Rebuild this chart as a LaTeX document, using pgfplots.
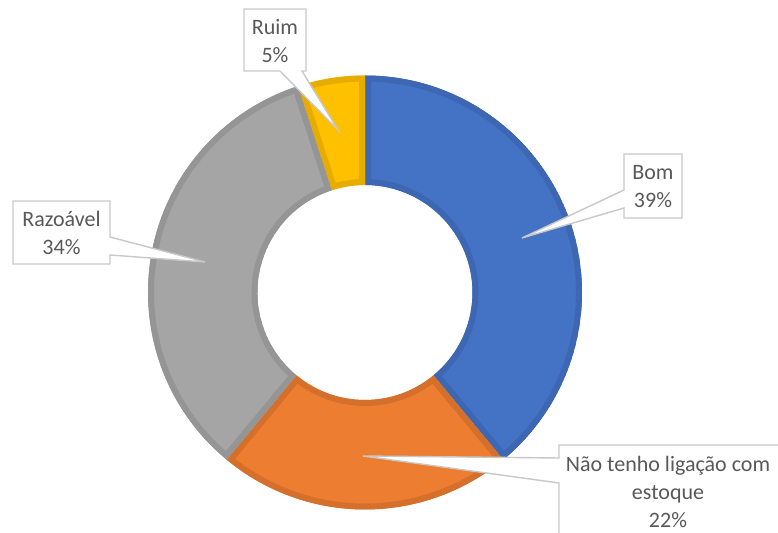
\documentclass[border=0pt]{standalone}
\usepackage{fontspec}
\setmainfont{Carlito}
\usepackage{pgfplots}
\usepackage{pgfplotstable}
\pgfplotsset{compat=1.18}
\definecolor{cBlue}{HTML}{4472C4}\definecolor{dBlue}{HTML}{3D67B3}
\definecolor{cOrange}{HTML}{ED7D31}\definecolor{dOrange}{HTML}{D4702C}
\definecolor{cGray}{HTML}{A5A5A5}\definecolor{dGray}{HTML}{959595}
\definecolor{cYellow}{HTML}{FFC000}\definecolor{dYellow}{HTML}{E6AD00}
\definecolor{txt}{HTML}{595959}
\definecolor{boxline}{HTML}{C8C8C8}
\pgfplotstableread{
label value
Bom 39
Nao 22
Razoavel 34
Ruim 5
}\donutdata
\pgfplotstablegetelem{0}{value}\of\donutdata \let\vA\pgfplotsretval
\pgfplotstablegetelem{1}{value}\of\donutdata \let\vB\pgfplotsretval
\pgfplotstablegetelem{2}{value}\of\donutdata \let\vC\pgfplotsretval
\pgfplotstablegetelem{3}{value}\of\donutdata \let\vD\pgfplotsretval
\pgfmathsetmacro\aA{90}
\pgfmathsetmacro\aB{\aA-\vA*3.6}
\pgfmathsetmacro\aC{\aB-\vB*3.6}
\pgfmathsetmacro\aD{\aC-\vC*3.6}
\pgfmathsetmacro\aE{\aD-\vD*3.6}
\newcommand\slicepath[2]{([shift={(#1:108.5pt)}]axis cs:365,292.5) arc[start angle=#1, end angle=#2, radius=108.5pt] -- ([shift={(#2:53.75pt)}]axis cs:365,292.5) arc[start angle=#2, end angle=#1, radius=53.75pt] -- cycle}
\newcommand\slice[4]{\begin{scope}\clip \slicepath{#1}{#2};
\fill[#3] \slicepath{#1}{#2};
\draw[#4, line width=6pt] \slicepath{#1}{#2};\end{scope}}
\begin{document}
\begin{tikzpicture}
\useasboundingbox (0,0) rectangle (389pt,266.5pt);
\begin{axis}[at={(0,0)}, anchor=south west, x=0.5pt, y=0.5pt,
  xmin=0, xmax=778, ymin=0, ymax=533, y dir=reverse,
  hide axis, clip=true]
\slice{\aA}{\aB}{cBlue}{dBlue}
\slice{\aB}{\aC}{cOrange}{dOrange}
\slice{\aD}{\aE}{cYellow}{dYellow}
\slice{\aC}{\aD}{cGray}{dGray}
% callouts
\draw[boxline, fill=white, line width=0.7pt] (axis cs:244,9) -- (axis cs:306,9) -- (axis cs:306,71) -- (axis cs:302,71) -- (axis cs:338,130) -- (axis cs:280,71) -- (axis cs:244,71) -- cycle;
\draw[boxline, fill=white, line width=0.7pt] (axis cs:624,154) -- (axis cs:682,154) -- (axis cs:682,218) -- (axis cs:624,218) -- (axis cs:624,208) -- (axis cs:522,238) -- (axis cs:624,190) -- cycle;
\draw[boxline, fill=white, line width=0.7pt] (axis cs:13,201) -- (axis cs:110,201) -- (axis cs:110,237) -- (axis cs:205,262) -- (axis cs:110,255) -- (axis cs:110,264) -- (axis cs:13,264) -- cycle;
\draw[boxline, fill=white, line width=0.7pt] (axis cs:559,445) -- (axis cs:790,445) -- (axis cs:790,545) -- (axis cs:559,545) -- (axis cs:559,483) -- (axis cs:363,456) -- (axis cs:559,458) -- cycle;
\begin{scope}[every node/.style={text=txt, align=center, font=\fontsize{11}{14}\selectfont, inner sep=0pt}]
\node at (axis cs:275,41) {Ruim\\5\%};
\node at (axis cs:653,187) {Bom\\39\%};
\node at (axis cs:61.5,233) {Razoável\\34\%};
\node at (axis cs:668,492) {Não tenho ligação com\\estoque\\22\%};
\end{scope}
\end{axis}
\end{tikzpicture}
\end{document}
